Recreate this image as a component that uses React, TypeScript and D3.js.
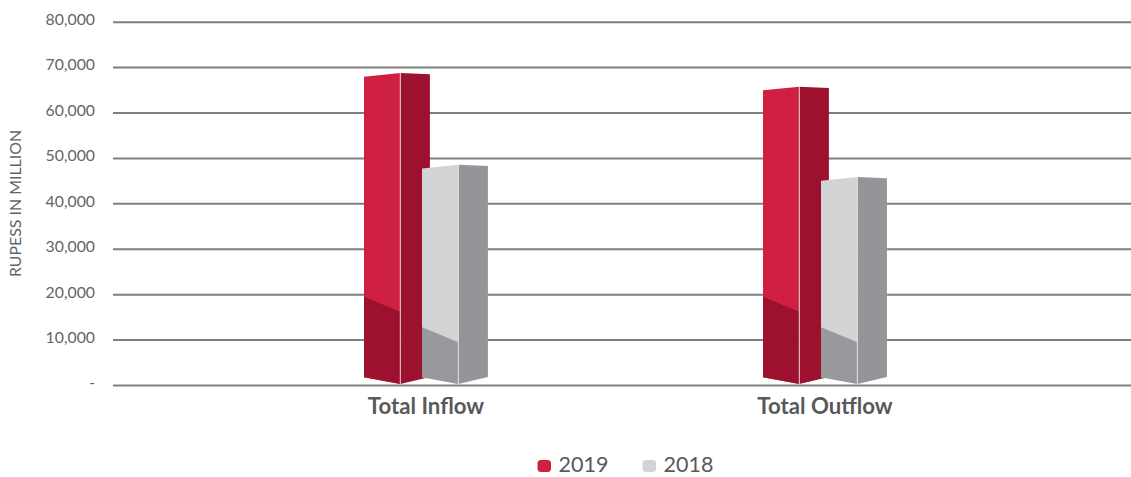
import React, { useEffect, useRef } from "react";
import * as d3 from "d3";

const categories = ["Total Inflow", "Total Outflow"];
const seriesNames = ["2019", "2018"];
const values2019 = [68700, 65700];
const values2018 = [48500, 45800];
// height of the darker lower part of the front face, at the front edge
const shade2019 = [16150, 16150];
const shade2018 = [9400, 9400];
const yTicks = [0, 10000, 20000, 30000, 40000, 50000, 60000, 70000, 80000];

const frontColors = ["#cf2041", "#d1d3d4"];
const sideColors = ["#9c112e", "#939598"];

const width = 1131;
const height = 477;
const fontName = "Lato, 'Open Sans', sans-serif";
const textColor = "#58595b";

export default function App() {
    const ref = useRef<SVGSVGElement>(null);

    useEffect(() => {
        const svg = d3.select(ref.current);
        svg.selectAll("*").remove();

        const y = d3.scaleLinear().domain([0, 80000]).range([385, 21.7]);
        const x = d3.scalePoint().domain(categories).range([426, 825]);
        const offset = d3.scalePoint().domain(seriesNames).range([-62, -4]);
        const frontW = 36.3;
        const sideW = 29.6;

        // gridlines + tick labels
        const axis = d3.axisLeft(y)
            .tickValues(yTicks)
            .tickSize(0)
            .tickPadding(18)
            .tickFormat(d => (+d === 0 ? "-" : d3.format(",")(+d)));
        const gAxis = svg.append("g").attr("transform", "translate(113,0)").call(axis as any);
        gAxis.select(".domain").remove();
        gAxis.selectAll(".tick text")
            .attr("fill", "#636466")
            .attr("y", -2.2)
            .style("font-family", fontName)
            .style("font-size", "15.8px");
        gAxis.selectAll(".tick")
            .append("line")
            .attr("x1", 0)
            .attr("x2", width - 113)
            .attr("stroke", "#808080")
            .attr("stroke-width", 2);

        const bars = [
            { name: seriesNames[0], vals: values2019, shade: shade2019 },
            { name: seriesNames[1], vals: values2018, shade: shade2018 },
        ];

        const line = d3.line();
        bars.forEach((s, si) => {
            categories.forEach((c, ci) => {
                const left = x(c)! + offset(s.name)!;
                const spine = left + frontW;
                const right = spine + sideW;
                const top = y(s.vals[ci]);
                const bottom = y(0) - 1;
                const shadeY = y(s.shade[ci]);
                const g = svg.append("g");

                g.append("path")
                    .attr("d", line([[left, top + 3.7], [spine, top], [spine, bottom], [left, bottom - 6.7]]) + "Z")
                    .attr("fill", frontColors[si]);
                g.append("path")
                    .attr("d", line([[left, shadeY - 15], [spine, shadeY], [spine, bottom], [left, bottom - 6.7]]) + "Z")
                    .attr("fill", si === 0 ? sideColors[0] : "#97999c");
                g.append("path")
                    .attr("d", line([[spine, top], [right, top + 1.3], [right, bottom - 7], [spine, bottom]]) + "Z")
                    .attr("fill", sideColors[si]);
                g.append("line")
                    .attr("x1", spine).attr("x2", spine)
                    .attr("y1", top).attr("y2", bottom)
                    .attr("stroke", "#f1e6e8")
                    .attr("stroke-width", 0.9);
            });
        });

        // category labels
        svg.selectAll(".cat")
            .data(categories)
            .enter().append("text")
            .attr("class", "cat")
            .attr("x", d => x(d)!)
            .attr("y", 413.5)
            .attr("text-anchor", "middle")
            .attr("fill", textColor)
            .style("font-family", fontName)
            .style("font-weight", 700)
            .style("font-size", "22.2px")
            .text(d => d);

        // y axis title
        svg.append("text")
            .attr("transform", "translate(21,203.5) rotate(-90)")
            .attr("text-anchor", "middle")
            .attr("fill", "#636466")
            .style("font-family", fontName)
            .style("font-size", "15.9px")
            .text("RUPESS IN MILLION");

        // legend
        const legendX = d3.scalePoint().domain(seriesNames).range([537.5, 642.5]);
        seriesNames.forEach((n, i) => {
            svg.append("rect")
                .attr("x", legendX(n)!)
                .attr("y", 460)
                .attr("width", 13.5)
                .attr("height", 12)
                .attr("rx", 3.5)
                .attr("fill", frontColors[i]);
            svg.append("text")
                .attr("x", legendX(n)! + 21)
                .attr("y", 472)
                .attr("fill", textColor)
                .style("font-family", fontName)
                .style("font-size", "21.5px")
                .text(n);
        });
    }, []);

    return (
        <svg
            ref={ref}
            width={width}
            height={height}
            style={{ position: "absolute", left: 0, top: 0, background: "#fff" }}
        />
    );
}
